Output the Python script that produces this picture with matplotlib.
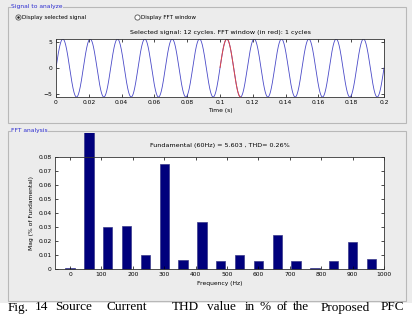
import numpy as np
import matplotlib
matplotlib.use('Agg')
import matplotlib.pyplot as plt
from matplotlib.patches import Rectangle, Circle

# Datos
amplitud = 5.6          # pico de la senal
f0 = 60                 # Hz
t_fin = 0.2             # 12 ciclos
ventana = (0.1, 0.1125) # tramo rojo (ventana FFT)

frecuencias = [0, 60, 120, 180, 240, 300, 360, 420, 480, 540,
               600, 660, 720, 780, 840, 900, 960]
magnitudes = [0.0008, 100.0, 0.030, 0.031, 0.0102, 0.075, 0.0064, 0.0336,
              0.0057, 0.010, 0.0057, 0.024, 0.0057, 0.001, 0.0057, 0.019, 0.007]

xt_tiempo = [0, 0.02, 0.04, 0.06, 0.08, 0.1, 0.12, 0.14, 0.16, 0.18, 0.2]
xt_tiempo_lbl = ['0', '0.02', '0.04', '0.06', '0.08', '0.1', '0.12', '0.14', '0.16', '0.18', '0.2']
yt_tiempo = [-5, 0, 5]
xt_frec = [0, 100, 200, 300, 400, 500, 600, 700, 800, 900, 1000]
yt_frec = [0, 0.01, 0.02, 0.03, 0.04, 0.05, 0.06, 0.07, 0.08]

titulo1 = 'Selected signal: 12 cycles. FFT window (in red): 1 cycles'
titulo2 = 'Fundamental (60Hz) = 5.603 , THD= 0.26%'

W, H = 412, 314
fig = plt.figure(figsize=(W/100, H/100), dpi=100)
fig.patch.set_facecolor('white')

# capa de fondo en pixeles
bg = fig.add_axes([0, 0, 1, 1], zorder=0)
bg.set_xlim(0, W)
bg.set_ylim(H, 0)
bg.axis('off')
gris = '#ececec'
bg.add_patch(Rectangle((0, 0), W, 303, fc=gris, ec='none'))
bg.add_patch(Rectangle((8, 7), 398, 116, fc='none', ec='#b8b8b8', lw=0.8))
bg.add_patch(Rectangle((8, 131), 398, 170, fc='none', ec='#b8b8b8', lw=0.8))
azul_gui = '#2b2bd0'
bg.text(11, 6.5, 'Signal to analyze', fontsize=4.3, color=azul_gui, va='center',
        bbox=dict(fc=gris, ec='none', pad=0.3))
bg.text(11, 130.5, 'FFT analysis', fontsize=4.3, color=azul_gui, va='center',
        bbox=dict(fc=gris, ec='none', pad=0.3))
# radios
bg.add_patch(Circle((18.5, 17.5), 2.6, fc='white', ec='#555555', lw=0.6))
bg.add_patch(Circle((18.5, 17.5), 1.3, fc='#222222', ec='none'))
bg.text(22.5, 17.5, 'Display selected signal', fontsize=4.1, va='center')
bg.add_patch(Circle((137.5, 17.5), 2.6, fc='white', ec='#555555', lw=0.6))
bg.text(141.5, 17.5, 'Display FFT window', fontsize=4.1, va='center')

# pie de figura (justificado)
palabras = [('Fig.', 8), ('14', 35), ('Source', 55), ('Current', 107), ('THD', 172),
            ('value', 207), ('in', 245), ('%', 260), ('of', 277), ('the', 293),
            ('Proposed', 321), ('PFC', 381)]
for p, x in palabras:
    bg.text(x, 310.5, p, fontsize=9.5, family='Liberation Serif', va='baseline')


def ejes_px(l, t, r, b):
    return fig.add_axes([l/W, 1 - b/H, (r - l)/W, (b - t)/H], zorder=1)


def estilo(ax):
    ax.tick_params(direction='in', length=2.2, width=0.5, labelsize=4.3, pad=2.5,
                   top=True, right=True)
    for s in ax.spines.values():
        s.set_linewidth(0.6)
        s.set_color('#333333')


# senal en el tiempo
ax1 = ejes_px(56, 39, 384, 97)
t = np.linspace(0, t_fin, 2000)
y = amplitud*np.sin(2*np.pi*f0*t)
ax1.plot(t, y, color='#4a4ac8', lw=0.6)
m = (t >= ventana[0]) & (t <= ventana[1])
ax1.plot(t[m], y[m], color='#e04848', lw=0.7)
ax1.set_xlim(0, t_fin)
ax1.set_ylim(-5.6, 5.6)
ax1.set_xticks(xt_tiempo, xt_tiempo_lbl)
ax1.set_yticks(yt_tiempo)
ax1.set_title(titulo1, fontsize=4.6, pad=3.5)
ax1.set_xlabel('Time (s)', fontsize=4.3, labelpad=2)
estilo(ax1)

# espectro
ax2 = ejes_px(55, 157, 384, 269)
barras = ax2.bar(frecuencias, magnitudes, width=30, color='#00007c',
                 edgecolor='#3a3a8a', lw=0.5)
marco = Rectangle((8, 133), 398, 168, transform=bg.transData)
for b in barras:
    b.set_clip_path(marco)
ax2.set_xlim(-48, 1000)
ax2.set_ylim(0, 0.08)
ax2.set_xticks(xt_frec)
ax2.set_yticks(yt_frec, ['0', '0.01', '0.02', '0.03', '0.04', '0.05', '0.06', '0.07', '0.08'])
ax2.set_title(titulo2, fontsize=4.6, pad=7)
ax2.set_xlabel('Frequency (Hz)', fontsize=4.3, labelpad=2.5)
ax2.set_ylabel('Mag (% of Fundamental)', fontsize=4.3, labelpad=3)
estilo(ax2)

fig.savefig('out.png', dpi=100, facecolor=fig.get_facecolor())
